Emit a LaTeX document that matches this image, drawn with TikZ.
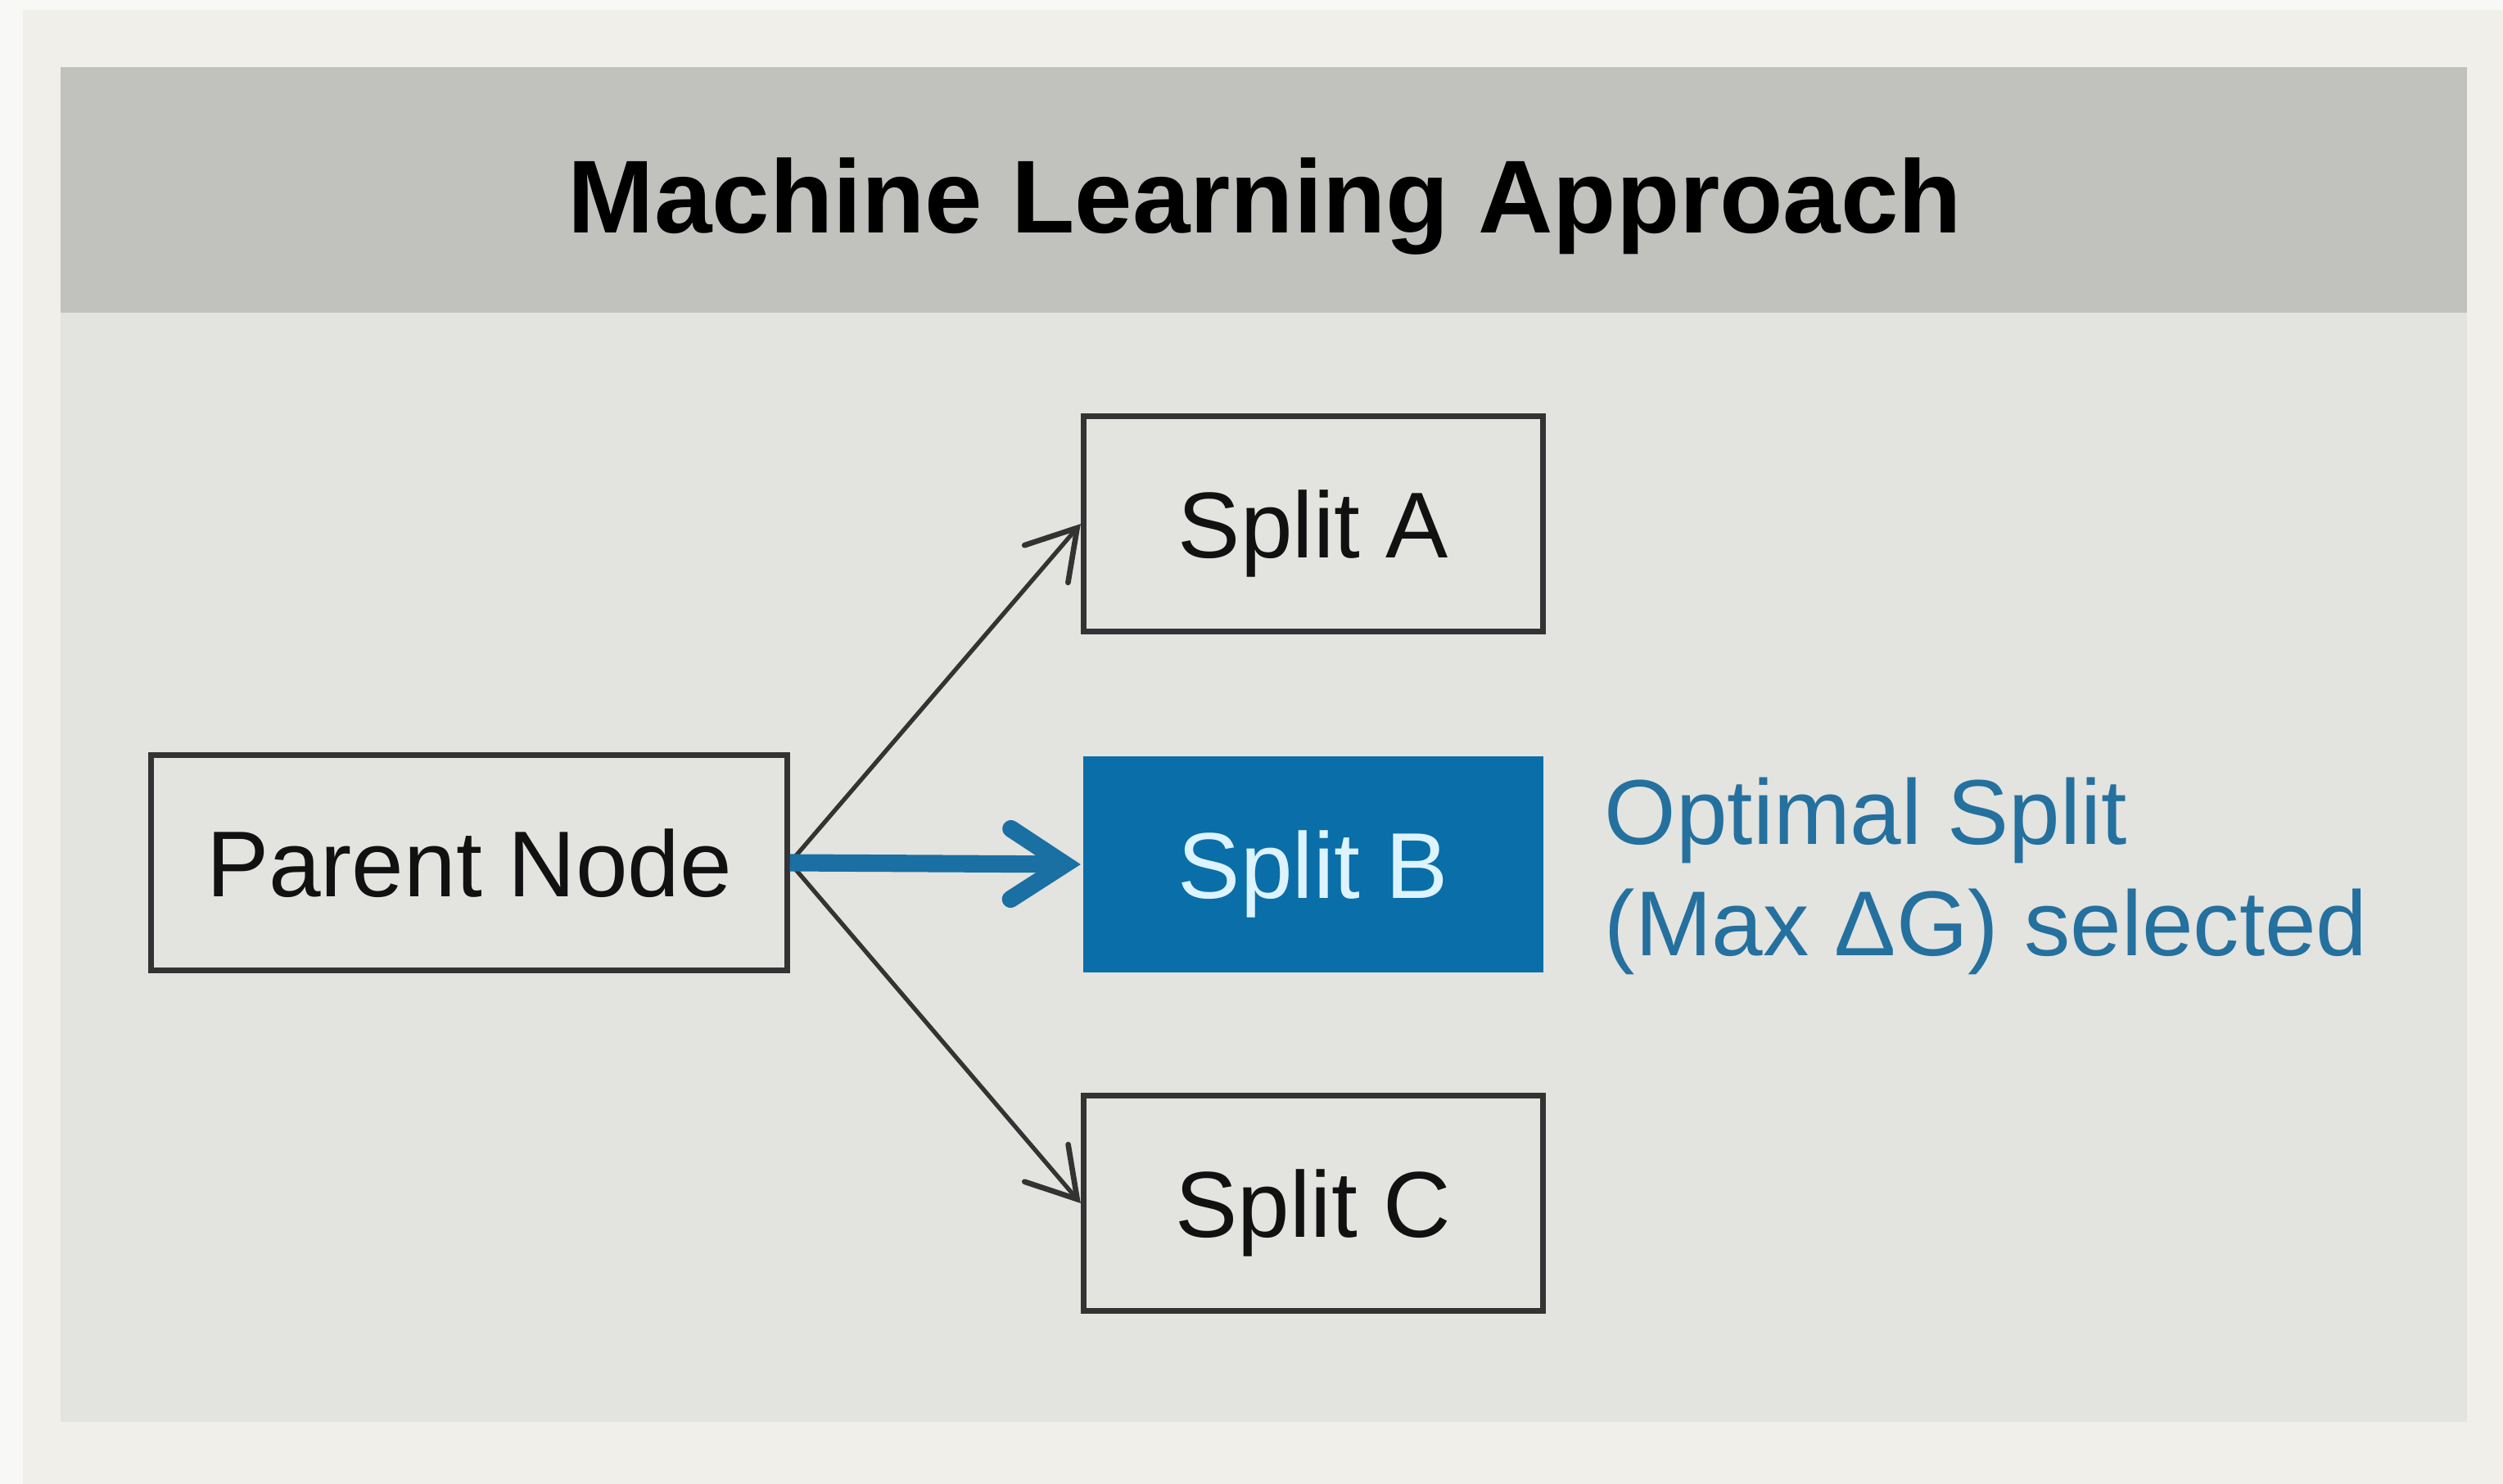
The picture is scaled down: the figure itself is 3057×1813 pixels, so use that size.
\documentclass[tikz,border=0pt]{standalone}
\usepackage{fontspec}
\setmainfont{Liberation Sans}
\usetikzlibrary{arrows.meta}
\definecolor{edgebg}{HTML}{F8F8F6}
\definecolor{outerbg}{HTML}{F0EFEA}
\definecolor{headbg}{HTML}{C1C1BD}
\definecolor{bodybg}{HTML}{E3E3DF}
\definecolor{boxline}{HTML}{333333}
\definecolor{boxtext}{HTML}{111111}
\definecolor{bluefill}{HTML}{0A6EA8}
\definecolor{bluetext}{HTML}{DDF3FF}
\definecolor{bluearrow}{HTML}{1A6FA3}
\definecolor{labelblue}{HTML}{24709E}
\begin{document}
\begin{tikzpicture}[x=0.01cm,y=-0.01cm,
  boxstyle/.style={draw=boxline, line width=2pt, minimum height=2.63cm,
    inner sep=0pt, text height=0.82cm, text depth=0pt, text=boxtext,
    font=\fontsize{32.5}{38}\selectfont},
  splitbox/.style={boxstyle, minimum width=5.61cm},
  bestbox/.style={splitbox, draw=none, fill=bluefill, text=bluetext},
  thinarrow/.style={draw=boxline, line width=1.5pt,
    -{Straight Barb[length=0.58cm, width=0.7cm, line cap=round, line width=1.9pt]}},
  bluearrowstyle/.style={draw=bluearrow, line width=6pt,
    -{Straight Barb[length=0.66cm, width=0.86cm, line cap=round]}},
  labeltext/.style={anchor=base west, inner sep=0pt, text=labelblue,
    font=\fontsize{32}{38}\selectfont}]
  % backgrounds
  \fill[edgebg] (0,0) rectangle (3057,1813);
  \fill[outerbg] (28,12) rectangle (3057,1813);
  \fill[bodybg] (74,82) rectangle (3013,1737);
  \fill[headbg] (74,82) rectangle (3013,382);
  \useasboundingbox (0,0) rectangle (3057,1813);
  % title
  \node[anchor=base, inner sep=0pt, text=black, font=\fontsize{36}{42}\selectfont\bfseries]
    (title) at (1545,285) {Machine Learning Approach};
  % nodes
  \node[boxstyle, minimum width=7.76cm] (parent) at (573,1054) {Parent Node};
  \node[splitbox] (A) at (1604,640) {Split A};
  \node[bestbox] (B) at (1604,1056) {Split B};
  \node[splitbox] (C) at (1604,1470) {Split C};
  % label
  \node[labeltext] (lbl1) at (1959,1032) {Optimal Split};
  \node[labeltext] (lbl2) at (1959,1167) {(Max ΔG) selected};
  % connectors
  \draw[thinarrow] (parent.east) -- (A.west);
  \draw[thinarrow] (parent.east) -- (C.west);
  \draw[bluearrowstyle] (parent.east) -- (B.west);
\end{tikzpicture}
\end{document}
